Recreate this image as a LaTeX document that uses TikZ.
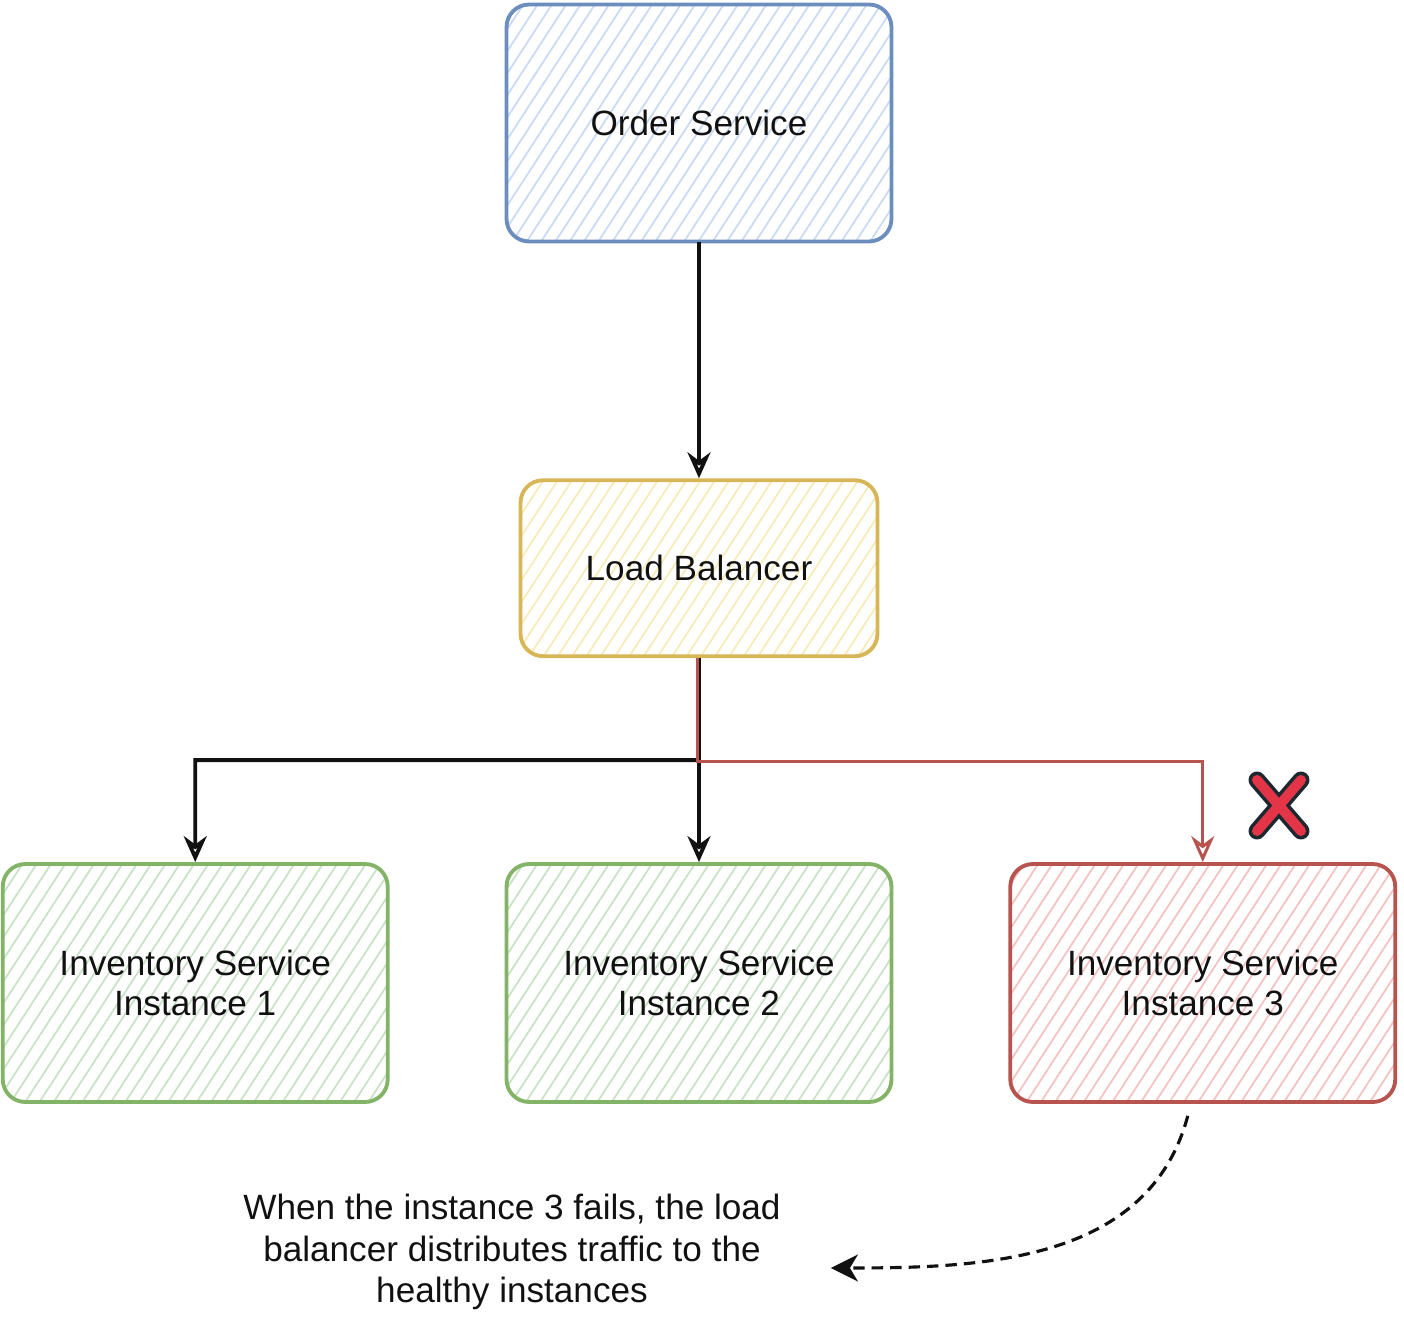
\documentclass[tikz,border=0pt]{standalone}
\usepackage{fontspec}
\setsansfont{Liberation Sans}
\usetikzlibrary{arrows.meta,positioning,patterns.meta,calc}
\definecolor{ink}{HTML}{111111}
\definecolor{blue}{HTML}{6C8EBF}
\definecolor{bluefill}{HTML}{C9DAF3}
\definecolor{amber}{HTML}{D6B656}
\definecolor{amberfill}{HTML}{F8EBB8}
\definecolor{green}{HTML}{82B366}
\definecolor{greenfill}{HTML}{C8E2C6}
\definecolor{red}{HTML}{B85450}
\definecolor{redfill}{HTML}{F4C2C0}
\definecolor{crossred}{HTML}{E43447}
\definecolor{crossink}{HTML}{1B2830}
\tikzset{
  every node/.style={font=\sffamily},
  box/.style={draw=ink, rounded corners=0.45cm, line width=2.2pt, align=center, minimum width=7.7cm, minimum height=4.76cm, text=ink, font=\sffamily\fontsize{20}{23}\selectfont},
  bluebox/.style={box, draw=blue, pattern={Lines[angle=57,distance=0.24cm,line width=1pt]}, pattern color=bluefill},
  amberbox/.style={box, draw=amber, pattern={Lines[angle=57,distance=0.24cm,line width=1pt]}, pattern color=amberfill},
  greenbox/.style={box, draw=green, pattern={Lines[angle=57,distance=0.24cm,line width=1pt]}, pattern color=greenfill},
  redbox/.style={box, draw=red, pattern={Lines[angle=57,distance=0.24cm,line width=1pt]}, pattern color=redfill},
  arrow/.style={-{Stealth[open,length=5.2mm,width=4.6mm]}, line width=2.2pt, draw=ink},
  redarrow/.style={-{Stealth[open,length=5.2mm,width=4.6mm]}, line width=1.7pt, draw=red},
  dashedarrow/.style={-{Stealth[length=5.4mm,width=5.4mm,inset=1.6mm]}, line width=1.8pt, dash pattern=on 6.5pt off 4pt, draw=ink},
  note/.style={font=\sffamily\fontsize{20}{23.5}\selectfont, text=ink, align=center, inner xsep=1cm},
}
\begin{document}
\begin{tikzpicture}[x=0.02cm, y=-0.02cm]
\useasboundingbox (0,0) rectangle (1404,1317);
\node[bluebox, minimum height=4.74cm] (order) at (699,123) {Order Service};
\node[amberbox, minimum width=7.14cm, minimum height=3.52cm, below=4.72cm of order] (lb) {Load Balancer};
\node[greenbox, below=4.08cm of lb] (inst2) {Inventory Service\\Instance 2};
\node[greenbox, left=2.3cm of inst2] (inst1) {Inventory Service\\Instance 1};
\node[redbox, right=2.3cm of inst2] (inst3) {Inventory Service\\Instance 3};
\node[note] (note) at (512,1252) {When the instance 3 fails, the load\\balancer distributes traffic to the\\healthy instances};
\coordinate (split) at ($(lb.south)!0.5!(inst2.north)$);
% calls through the balancer
\draw[arrow] (order) -- (lb);
\draw[arrow] (lb) -- (inst2);
\draw[arrow] (lb.south) -- (split) -| (inst1.north);
\draw[redarrow] ([xshift=-1pt]lb.south) |- ([yshift=-1pt]split) -| (inst3.north);
% failed instance
\draw[crossink, line width=0.34cm, line cap=round] (1257,780) -- (1301,831) (1301,780) -- (1257,831);
\draw[crossred, line width=0.2cm, line cap=round] (1257,780) -- (1301,831) (1301,780) -- (1257,831);
\draw[dashedarrow] ([xshift=-0.3cm,yshift=-0.24cm]inst3.south) to[out=-105,in=0] ([yshift=-0.32cm]note.east);
\end{tikzpicture}
\end{document}
